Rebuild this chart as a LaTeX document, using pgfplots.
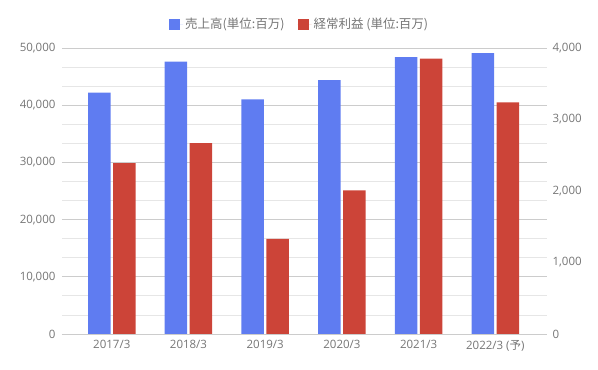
\documentclass[border=0pt]{standalone}
\usepackage{pgfplots}
\pgfplotsset{compat=1.18}
\usepackage{fontspec}
\setmainfont{Open Sans}
\newfontfamily\jp{Noto Sans CJK JP}
\definecolor{sales}{HTML}{5F7CF1}
\definecolor{profit}{HTML}{CC4438}
\definecolor{txt}{HTML}{757575}
\definecolor{majg}{HTML}{CCCCCC}
\definecolor{ming}{HTML}{E6E6E6}
\begin{document}
\begin{tikzpicture}
\useasboundingbox (-62pt,-36pt) rectangle (536pt,334pt);
\pgfplotsset{
  base/.style={
    scale only axis, width=485pt, height=286pt,
    at={(0pt,0pt)}, anchor=south west,
    xmin=-0.649, xmax=5.674,
    ymin=0,
    axis line style={draw=none},
    major tick length=0pt, minor tick length=0pt,
    tick style={draw=none},
    ybar, bar width=22.5pt,
    ticklabel style={font=\fontsize{11.5}{13}\selectfont, text=txt},
    /pgf/number format/.cd, 1000 sep={,}, assume math mode=true,
  }
}
\begin{axis}[base,
  ymax=50000,
  ytick={0,10000,...,50000},
  minor y tick num=2,
  ymajorgrids, yminorgrids,
  major grid style={majg, line width=0.8pt},
  minor grid style={ming, line width=0.8pt},
  scaled y ticks=false,
  yticklabel style={xshift=-3pt},
  xtick={0,1,2,3,4,5},
  xticklabels={2017/3,2018/3,2019/3,2020/3,2021/3,{2022/3 ({\jp 予})}},
  xticklabel style={yshift=-3pt},
  extra y ticks={0},
  extra y tick labels={},
  extra y tick style={grid style={black!80, line width=0.9pt}},
  legend columns=2,
  legend style={at={(0.49,1)}, anchor=center, yshift=24pt, draw=none, fill=none,
    font=\jp\fontsize{12.5}{14}\selectfont, text=txt,
    /tikz/every even column/.append style={column sep=11pt}},
  legend image code/.code={\fill[#1] (0pt,-5.5pt) rectangle (11pt,5.5pt); \path (0pt,0pt) -- (14pt,0pt);},
]
\addplot[fill=sales, draw=none, bar shift=-12.5pt] coordinates {
 (0,42200) (1,47600) (2,41000) (3,44400) (4,48400) (5,49100)};
\addlegendentry{売上高(単位:百万)}
\addlegendimage{fill=profit, draw=none}
\addlegendentry{経常利益 (単位:百万)}
\end{axis}
\begin{axis}[base,
  ymax=4000,
  axis y line*=right,
  axis x line=none,
  ytick={0,1000,...,4000},
  scaled y ticks=false,
  yticklabel style={xshift=2pt},
  xtick=\empty,
]
\addplot[fill=profit, draw=none, bar shift=12.5pt] coordinates {
 (0,2390) (1,2670) (2,1330) (3,2010) (4,3850) (5,3240)};
\end{axis}
\end{tikzpicture}
\end{document}
